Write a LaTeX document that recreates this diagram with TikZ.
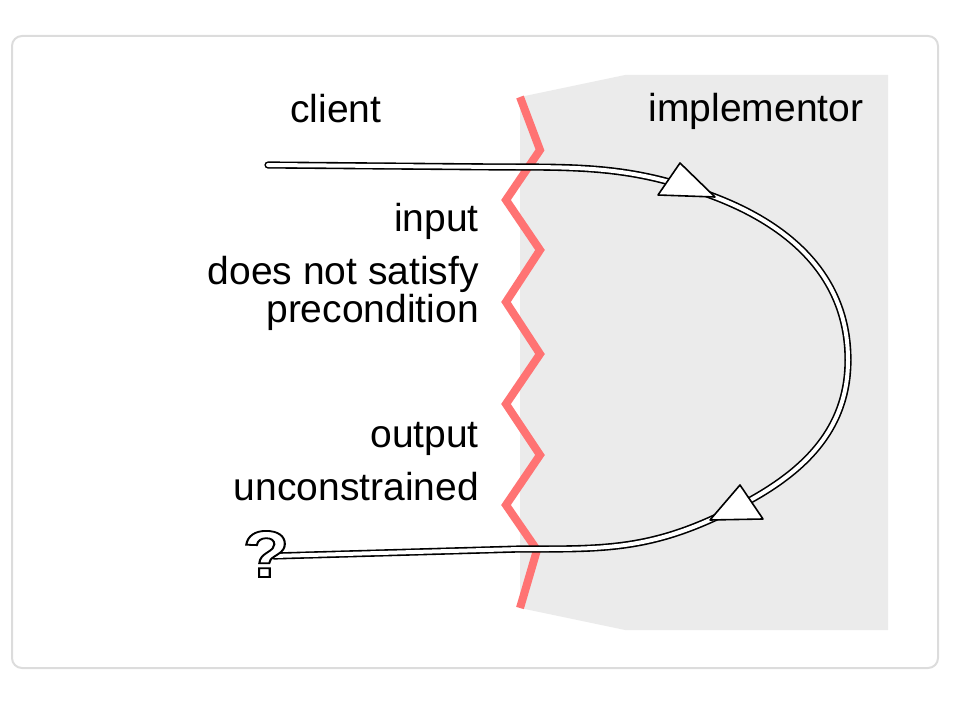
\documentclass[tikz,border=0pt]{standalone}
\usepackage{fontspec}
\setmainfont{Liberation Sans}
\definecolor{framegray}{HTML}{DCDCDC}
\definecolor{sidegray}{HTML}{EBEBEB}
\definecolor{wallred}{HTML}{FF7373}
% outlined glyph: white fill, black stroke
\newcommand{\hollowtext}[1]{\special{pdf:literal direct 1 1 1 rg 0 0 0 RG 2 Tr 1.8 w}#1\special{pdf:literal direct 0 Tr 0 0 0 rg}}

\begin{document}
\begin{tikzpicture}[x=1pt,y=-1pt,
		lbl/.style={font=\fontsize{39}{38}\selectfont,inner sep=0pt},
		wire/.style={line width=1.6pt,double=white,double distance=4pt},
		arrowtri/.style={draw=black,fill=white,line width=1.6pt,line join=round},
		wall/.style={wallred,line width=8pt,line join=miter}
	]
			\useasboundingbox (0,0) rectangle (972,708);

			% frame
			\draw[framegray,line width=2pt,rounded corners=10pt] (12,36) rectangle (938,668);

			% implementor side
			\fill[sidegray] (520,97)--(625,75)--(888,75)--(888,630)--(625,630)--(520,608)--cycle;

			% zigzag wall
			\coordinate (W0) at (520,97);
			\coordinate (W1) at (540,150);
			\coordinate (W2) at (506,200);
			\coordinate (W3) at (540,250);
			\coordinate (W4) at (506,302);
			\coordinate (W5) at (540,354);
			\coordinate (W6) at (506,404);
			\coordinate (W7) at (540,455);
			\coordinate (W8) at (506,505);
			\coordinate (W9) at (537,550);
			\coordinate (W10) at (520,608);
			\draw[wall] (W0)--(W1)--(W2)--(W3)--(W4)--(W5)--(W6)--(W7)--(W8)--(W9)--(W10);

			% call path
			\coordinate (S) at (268,165);
			\coordinate (A) at (500,167);
			\coordinate (T1) at (715,197);
			\coordinate (R) at (848,360);
			\coordinate (T2) at (710,520);
			\coordinate (B) at (520,549);
			\coordinate (E) at (274,556);

			\draw[wire,line cap=round] (S)--(A) to[out=0,in=159] (T1) to[out=-21,in=90] (R)
				to[out=-90,in=24] (T2) to[out=204,in=0] (B)--(E);

			\draw[arrowtri] (T1)--(680,163)--(658,195)--cycle;
			\draw[arrowtri] (T2)--(740,485)--(763,519)--cycle;

			% labels
			\node[lbl,anchor=base] (client) at (336,123) {client};
			\node[lbl,anchor=base] (impl) at (756,122) {implementor};
			\node[lbl,anchor=base east] (in) at (479,232) {input};
			\node[lbl,anchor=base east] (pre1) at (479,285) {does not satisfy};
			\node[lbl,anchor=base east] (pre2) at (479,323) {precondition};
			\node[lbl,anchor=base east] (out) at (479,447) {output};
			\node[lbl,anchor=base east] (unc) at (479,500) {unconstrained};

			\node[font=\fontsize{66}{66}\selectfont\bfseries,anchor=base,xscale=1.15,inner sep=0pt] (Q) at (266,577)
				{\hollowtext{?}};
		\end{tikzpicture}
\end{document}
